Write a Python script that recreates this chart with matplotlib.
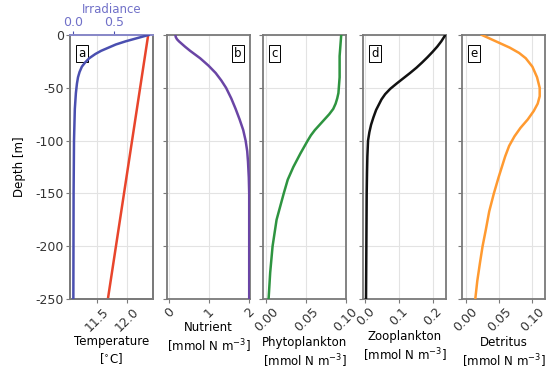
import matplotlib
matplotlib.use("Agg")
import matplotlib.pyplot as plt
import numpy as np

# ---------------- data ----------------
temp_depth = [0, -250]
temp_vals = [12.35, 11.68]

irr_depth = [0, -3, -6, -9, -12, -15, -18, -22, -26, -30, -35, -40, -46, -55, -70, -100, -150, -250]
irr_vals = [0.92, 0.78, 0.64, 0.52, 0.43, 0.34, 0.27, 0.195, 0.145, 0.105, 0.077, 0.058, 0.045, 0.032, 0.019, 0.009, 0.004, 0.001]

nut_depth = [0, -2, -4, -6, -8, -11, -15, -22, -29, -36, -43, -50, -60, -70, -80, -90, -100, -110, -120, -135, -150, -250]
nut_vals = [0.15, 0.16, 0.19, 0.24, 0.30, 0.39, 0.52, 0.77, 0.98, 1.16, 1.30, 1.42, 1.55, 1.66, 1.76, 1.85, 1.91, 1.95, 1.97, 1.99, 2.0, 2.0]

phy_depth = [0, -10, -20, -30, -40, -50, -55, -60, -65, -70, -75, -80, -85, -90, -95, -100, -112, -125, -137, -150, -175, -200, -225, -250]
phy_vals = [0.094, 0.093, 0.092, 0.092, 0.092, 0.091, 0.0905, 0.089, 0.087, 0.084, 0.079, 0.073, 0.067, 0.061, 0.056, 0.052, 0.043, 0.034, 0.027, 0.022, 0.013, 0.008, 0.005, 0.003]

zoo_depth = [0, -3, -6, -11, -16, -21, -26, -31, -36, -41, -46, -51, -56, -61, -66, -71, -78, -85, -92, -100, -115, -130, -150, -200, -250]
zoo_vals = [0.238, 0.232, 0.226, 0.214, 0.200, 0.185, 0.169, 0.152, 0.133, 0.113, 0.093, 0.074, 0.059, 0.048, 0.040, 0.032, 0.024, 0.017, 0.012, 0.008, 0.006, 0.005, 0.004, 0.003, 0.002]

det_depth = [0, -4, -8, -12, -17, -22, -30, -40, -50, -58, -65, -72, -80, -88, -96, -105, -115, -125, -135, -150, -167, -184, -200, -216, -233, -250]
det_vals = [0.024, 0.038, 0.052, 0.066, 0.080, 0.090, 0.100, 0.107, 0.111, 0.111, 0.108, 0.102, 0.093, 0.082, 0.073, 0.065, 0.059, 0.054, 0.049, 0.042, 0.035, 0.030, 0.025, 0.021, 0.017, 0.014]

panel_letters = ["a", "b", "c", "d", "e"]
xlabels = ["Temperature\n[$^{\\circ}$C]",
           "Nutrient\n[mmol N m$^{-3}$]",
           "Phytoplankton\n[mmol N m$^{-3}$]",
           "Zooplankton\n[mmol N m$^{-3}$]",
           "Detritus\n[mmol N m$^{-3}$]"]
xticks = [[11.5, 12.0], [0, 1, 2], [0.00, 0.05, 0.10], [0.0, 0.1, 0.2], [0.00, 0.05, 0.10]]
xticklabels = [["11.5", "12.0"], ["0", "1", "2"], ["0.00", "0.05", "0.10"],
               ["0.0", "0.1", "0.2"], ["0.00", "0.05", "0.10"]]
xlims = [(11.05, 12.43), (-0.06, 2.02), (-0.004, 0.1), (-0.007, 0.24), (-0.006, 0.119)]
irr_ticks = [0.0, 0.5]
irr_ticklabels = ["0.0", "0.5"]
depth_ticks = [0, -50, -100, -150, -200, -250]

# ---------------- style ----------------
plt.rcParams['font.family'] = ['DejaVu Sans']
spine_col = '#7a7a7a'
irr_col = '#4a4fb0'
irr_txt = '#7070c8'
fs = 8.5
tfs = 9

fig = plt.figure(figsize=(5.47, 3.76), dpi=100)
lefts = [70, 167, 263, 363, 462]
W = 547.0
H = 376.0
width = 83
bottom = 1 - 299 / H
height = (299 - 35) / H

series = [(temp_vals, temp_depth, '#e8452c'),
          (nut_vals, nut_depth, '#6a45a5'),
          (phy_vals, phy_depth, '#2e9440'),
          (zoo_vals, zoo_depth, '#111111'),
          (det_vals, det_depth, '#ff9a30')]

axes = []
for i in range(5):
    ax = fig.add_axes([lefts[i] / W, bottom, width / W, height])
    axes.append(ax)
    vals, dep, col = series[i]
    ax.plot(vals, dep, color=col, lw=1.8, zorder=3)
    ax.set_xlim(*xlims[i])
    ax.set_ylim(-250, 0)
    ax.set_yticks(depth_ticks)
    ax.set_xticks(xticks[i])
    ax.set_xticklabels(xticklabels[i], rotation=45, fontsize=tfs)
    ax.grid(True, color='#e3e3e3', lw=0.8, zorder=0)
    for s in ax.spines.values():
        s.set_color(spine_col)
        s.set_linewidth(1.3)
    ax.tick_params(axis='both', colors='#333333', length=3, width=0.8, labelsize=tfs, pad=1.5)
    ax.tick_params(axis='both', color=spine_col)
    if i == 0:
        ax.set_yticklabels([str(t) for t in depth_ticks])
        ax.set_ylabel("Depth [m]", fontsize=fs, labelpad=7)
    else:
        ax.set_yticklabels([])
    ax.set_xlabel(xlabels[i], fontsize=fs, labelpad=1, linespacing=1.25)
    if i == 1:
        pos = (0.90, 0.955)
        ha = 'right'
    else:
        pos = (0.10, 0.955)
        ha = 'left'
    ax.text(pos[0], pos[1], panel_letters[i], transform=ax.transAxes, fontsize=fs,
            ha=ha, va='top', zorder=5,
            bbox=dict(boxstyle='square,pad=0.2', fc='white', ec='black', lw=0.7))

# irradiance top axis on panel a
ax0 = axes[0]
axt = ax0.twiny()
axt.plot(irr_vals, irr_depth, color=irr_col, lw=1.8, zorder=3)
axt.set_xlim(-0.04, 0.975)
axt.set_xticks(irr_ticks)
axt.set_xticklabels(irr_ticklabels, fontsize=tfs, color=irr_txt)
axt.set_xlabel("Irradiance", fontsize=fs, color=irr_txt, labelpad=2.5)
axt.tick_params(axis='x', colors=irr_txt, length=3, width=0.8, pad=1.0)
axt.tick_params(axis='x', color=irr_col)
for name, s in axt.spines.items():
    s.set_color(spine_col)
    s.set_linewidth(1.3)
axt.spines['top'].set_color('#8a8ad0')

fig.savefig("out.png", dpi=100)
